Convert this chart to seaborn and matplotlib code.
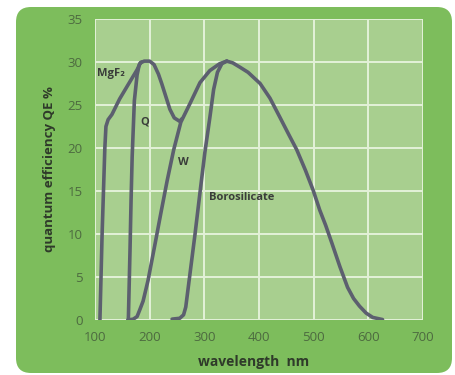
import matplotlib
matplotlib.use("Agg")
import matplotlib.pyplot as plt
from matplotlib.patches import FancyBboxPatch
import seaborn as sns
import pandas as pd

# Quantum efficiency (%) versus wavelength (nm) for different window materials
mgf2_wl = [109, 111, 113, 116, 118, 120, 124, 131, 145, 160, 177, 183]
mgf2_qe = [0, 5, 10, 16, 20, 22.5, 23.3, 23.9, 25.7, 27.3, 29.1, 29.9]

quartz_wl = [161, 164, 166, 168, 172, 177, 181, 185]
quartz_qe = [0, 8, 14, 19, 25.5, 28.5, 29.7, 30.0]

# short-wave hump shared by the MgF2 and quartz windows
hump_wl = [183, 190, 200, 208, 216, 222, 228, 237, 245, 255, 259]
hump_qe = [29.9, 30.1, 30.1, 29.7, 28.6, 27.5, 26.3, 24.5, 23.5, 23.1, 23.4]

uv_wl = [160, 170, 177, 182, 188, 197, 210, 221, 232, 244, 257, 274, 292, 310, 328, 341]
uv_qe = [0, 0.1, 0.4, 1.2, 2.2, 4.6, 8.9, 12.6, 16.2, 19.8, 23.0, 25.2, 27.6, 29.0, 29.8, 30.1]

boro_wl = [241, 255, 262, 266, 269, 274, 283, 292, 301, 310, 317, 324, 332, 341]
boro_qe = [0.1, 0.2, 0.6, 1.5, 3.0, 5.5, 10, 14.8, 19.5, 23.5, 26.8, 28.8, 29.8, 30.1]

# long-wave tail common to all windows
tail_wl = [341, 352, 365, 380, 402, 420, 438, 455, 469, 485, 499, 511, 522, 533,
           548, 562, 573, 584, 596, 608, 626]
tail_qe = [30.1, 29.9, 29.4, 28.8, 27.5, 25.8, 23.6, 21.5, 19.8, 17.4, 15.1, 12.8,
           11.0, 9.0, 6.2, 3.8, 2.5, 1.6, 0.8, 0.3, 0.05]

x_ticks = [100, 200, 300, 400, 500, 600, 700]
y_ticks = [0, 5, 10, 15, 20, 25, 30, 35]

curve_labels = ["MgF₂", "Q", "W", "Borosilicate"]
label_x = [104, 191, 261, 308]
label_y = [28.7, 23.0, 18.3, 14.3]
label_ha = ["left", "center", "center", "left"]

PANEL = "#7dbd5c"
PLOT_BG = "#a8cf8f"
GRID = "#e3f1d8"
CURVE = "#5c5f6f"
TICK_TXT = "#4d6a40"
LABEL_TXT = "#2f3a2a"

sns.set_theme(style="white")
plt.rcParams["font.family"] = ["Open Sans", "DejaVu Sans"]

fig = plt.figure(figsize=(4.55, 3.75), dpi=100)
fig.patch.set_facecolor("white")

# rounded green panel behind the chart
panel = FancyBboxPatch((0.16, 0.02), 4.36, 3.66,
                       boxstyle="round,pad=0,rounding_size=0.15",
                       transform=fig.dpi_scale_trans,
                       facecolor=PANEL, edgecolor="none", zorder=-10)
fig.add_artist(panel)

ax = fig.add_axes([95 / 455, 1 - 320 / 375, 328 / 455, 301 / 375])
ax.set_zorder(1)
ax.set_facecolor(PLOT_BG)

segments = [
    (mgf2_wl, mgf2_qe),
    (quartz_wl, quartz_qe),
    (hump_wl, hump_qe),
    (uv_wl, uv_qe),
    (boro_wl, boro_qe),
    (tail_wl, tail_qe),
]
for wl, qe in segments:
    df = pd.DataFrame({"wavelength": wl, "qe": qe})
    sns.lineplot(data=df, x="wavelength", y="qe", ax=ax, sort=False,
                 color=CURVE, linewidth=2.6, solid_capstyle="round",
                 solid_joinstyle="round", zorder=3)

ax.set_xlim(100, 700)
ax.set_ylim(0, 35)
ax.set_xticks(x_ticks)
ax.set_yticks(y_ticks)
ax.grid(True, color=GRID, linewidth=1.4, zorder=1)
ax.set_axisbelow(True)
for s in ax.spines.values():
    s.set_visible(False)
ax.tick_params(axis="both", length=0, labelsize=9.5, labelcolor=TICK_TXT)
ax.tick_params(axis="x", pad=8)
ax.tick_params(axis="y", pad=9)

ax.set_xlabel("wavelength  nm", fontsize=10, fontweight="bold",
              color=LABEL_TXT, labelpad=8)
ax.xaxis.label.set_x(0.482)
ax.set_ylabel("quantum efficiency QE %", fontsize=9.5, fontweight="bold",
              color=LABEL_TXT, labelpad=8)

for txt, lx, ly, ha in zip(curve_labels, label_x, label_y, label_ha):
    ax.text(lx, ly, txt, fontsize=8, fontweight="bold", color="#3a3d3a",
            ha=ha, va="center", zorder=4)

fig.savefig("out.png", dpi=100, facecolor="white")
